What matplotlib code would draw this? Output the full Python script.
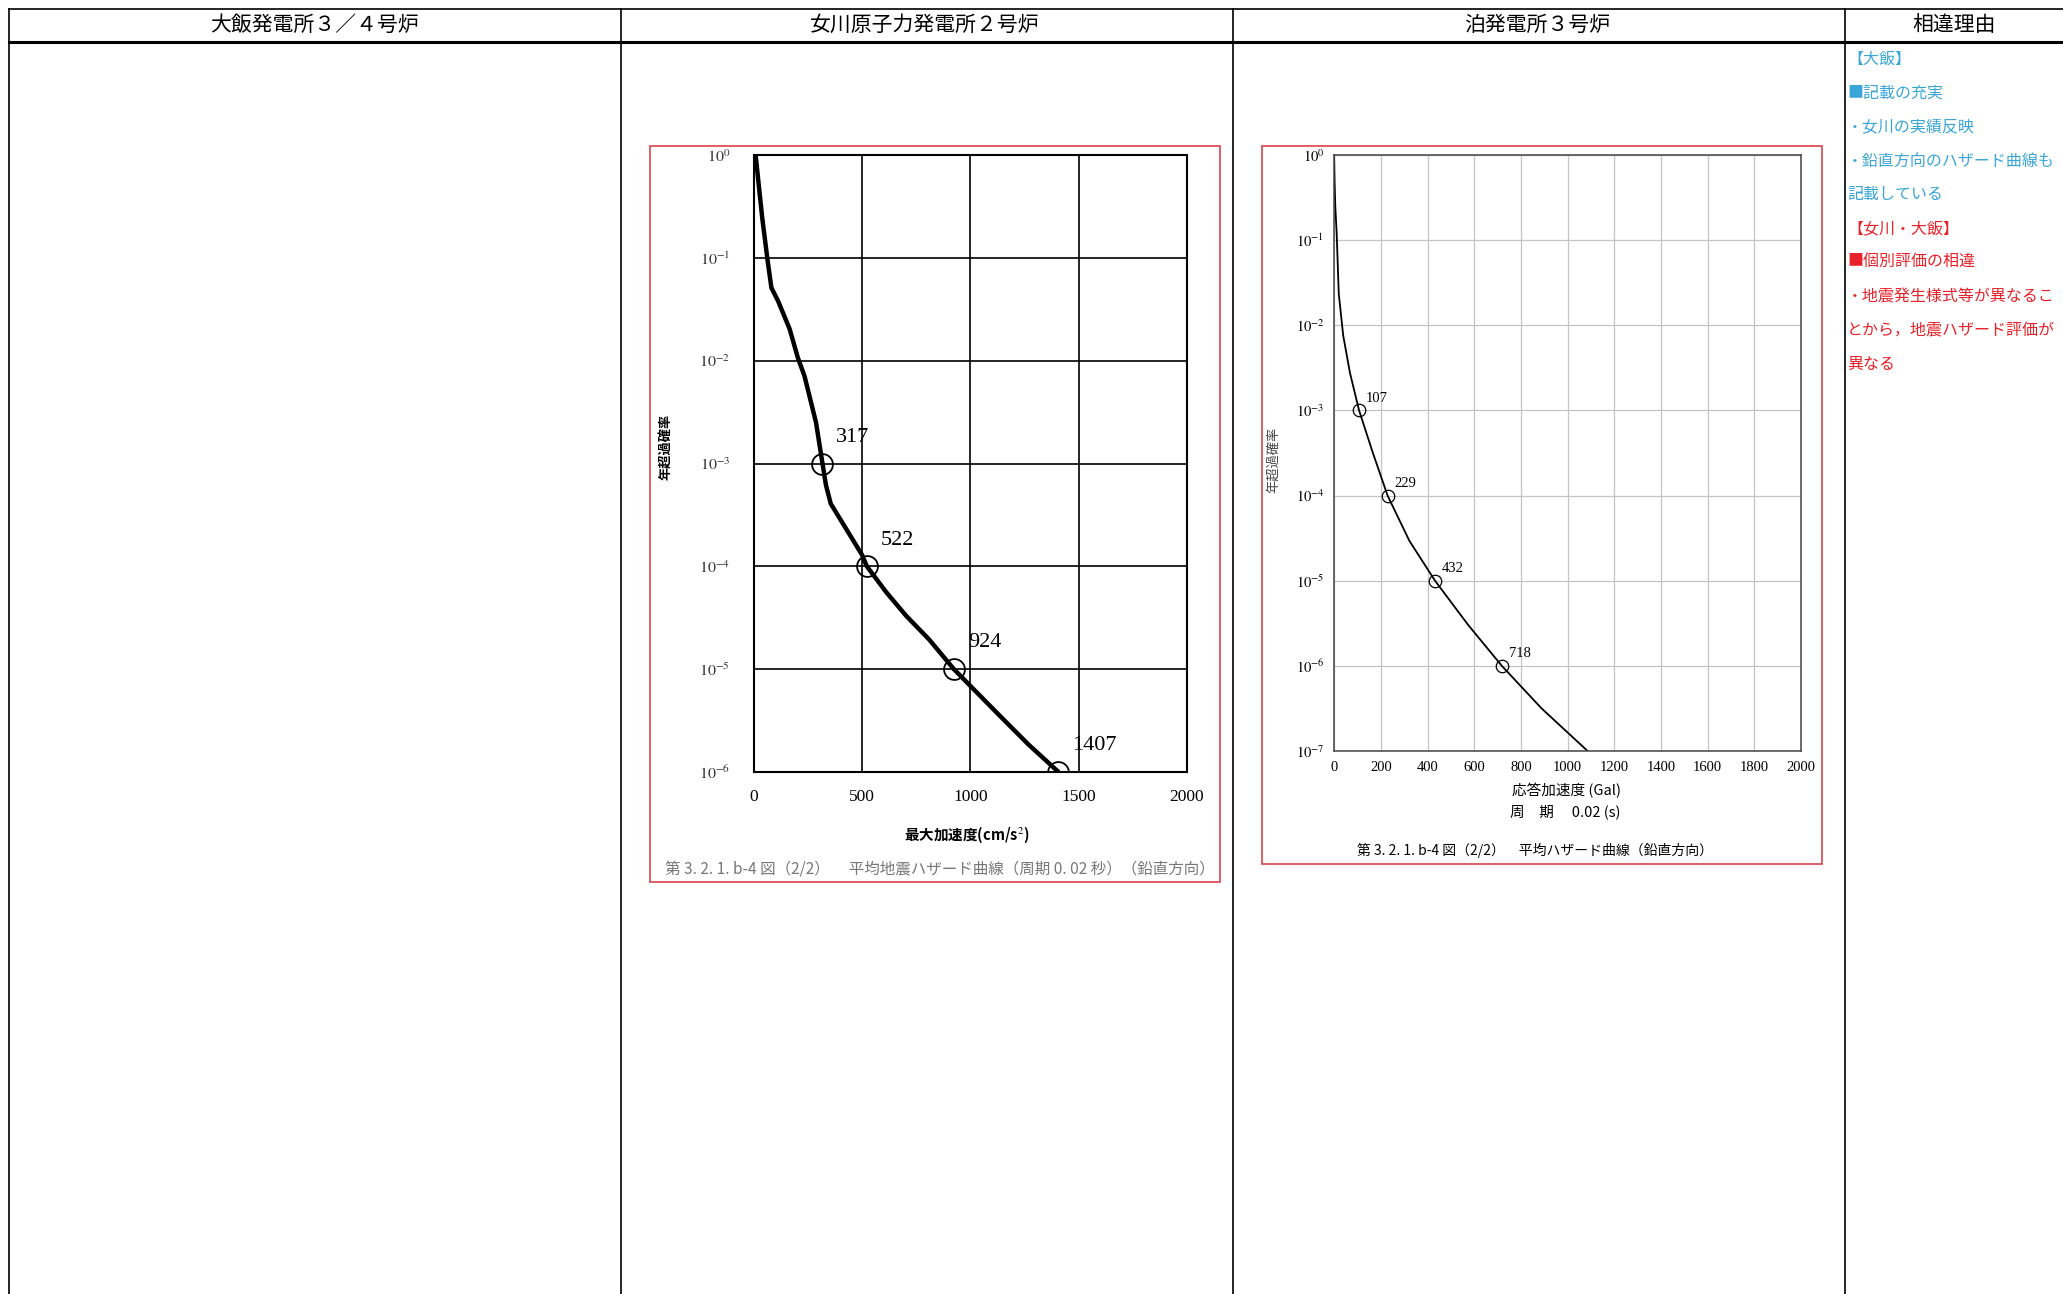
import matplotlib
matplotlib.use("Agg")
import matplotlib.pyplot as plt
from matplotlib.lines import Line2D
from matplotlib.patches import Rectangle
from matplotlib.ticker import FixedLocator, NullLocator
import numpy as np

plt.rcParams['font.family'] = ['Noto Sans CJK JP', 'DejaVu Sans']
plt.rcParams['mathtext.fontset'] = 'stix'

# ---- data ----
headers = ["大飯発電所３／４号炉", "女川原子力発電所２号炉", "泊発電所３号炉", "相違理由"]

# Onagawa 2 (vertical, period 0.02 s): acceleration (cm/s2) vs log10(annual exceedance)
ona_acc = [8, 13, 38, 63, 81, 112, 165, 203, 234, 287, 317, 333, 355, 416, 500, 522,
           611, 703, 809, 924, 1022, 1144, 1267, 1407]
ona_logp = [0.0, -0.1, -0.6, -1.02, -1.29, -1.42, -1.69, -1.97, -2.15, -2.6, -3.0, -3.21, -3.39, -3.6, -3.89, -4.0,
            -4.25, -4.48, -4.71, -5.0, -5.21, -5.47, -5.73, -6.0]
ona_mark_acc = [317, 522, 924, 1407]
ona_mark_logp = [-3, -4, -5, -6]

# Tomari 3 (vertical, period 0.02 s): acceleration (Gal) vs log10(annual exceedance)
tom_acc = [0, 2, 5, 11, 20, 39, 68, 107, 165, 229, 322, 432, 574, 718, 888, 1085]
tom_logp = [0.0, -0.3, -0.6, -0.92, -1.63, -2.12, -2.56, -3.0, -3.49, -4.0, -4.53, -5.0, -5.52, -6.0, -6.5, -7.0]
tom_mark_acc = [107, 229, 432, 718]
tom_mark_logp = [-3, -4, -5, -6]

reason_lines = [
    ("【大飯】", "#3aa6d8"),
    ("■記載の充実", "#3aa6d8"),
    ("・女川の実績反映", "#3aa6d8"),
    ("・鉛直方向のハザード曲線も", "#3aa6d8"),
    ("記載している", "#3aa6d8"),
    ("【女川・大飯】", "#e8222a"),
    ("■個別評価の相違", "#e8222a"),
    ("・地震発生様式等が異なるこ", "#e8222a"),
    ("とから，地震ハザード評価が", "#e8222a"),
    ("異なる", "#e8222a"),
]

W, H = 1568.0, 984.0  # layout measured on the shrunk picture


def fx(x):
    return x / W


def fy(y):
    return 1 - y / H


fig = plt.figure(figsize=(20.63, 12.94), dpi=100)

# ---- table frame ----
col_x = [7, 472, 937, 1402]
fig.add_artist(Line2D([fx(7), 1], [fy(7), fy(7)], color='black', lw=1.2))
fig.add_artist(Line2D([fx(7), 1], [fy(32), fy(32)], color='black', lw=2.2))
for cx in col_x:
    fig.add_artist(Line2D([fx(cx), fx(cx)], [fy(7), 0], color='black', lw=1.2))
col_centers = [239, 703, 1168, 1485]
for cx, h in zip(col_centers, headers):
    fig.text(fx(cx), fy(19), h, ha='center', va='center', fontsize=15)

# ---- reasons column ----
for i, (txt, c) in enumerate(reason_lines):
    fig.text(fx(1404), fy(45 + i * 25.8), txt, ha='left', va='center', fontsize=11.5, color=c)

# ---- middle chart: Onagawa ----
fig.add_artist(Rectangle((fx(494), fy(671)), fx(927) - fx(494), fy(111) - fy(671),
                         transform=fig.transFigure, fill=False, ec='#d9434a', lw=1.2))
ax1 = fig.add_axes([fx(573), fy(587), fx(902) - fx(573), fy(118) - fy(587)])
ax1.plot(ona_acc, 10 ** np.array(ona_logp), color='black', lw=3.2, solid_capstyle='round',
         solid_joinstyle='round')
ax1.plot(ona_mark_acc, 10.0 ** np.array(ona_mark_logp), 'o', mfc='none', mec='black', ms=15, mew=1.3)
for a, lp in zip(ona_mark_acc, ona_mark_logp):
    ax1.annotate(str(a), (a, 10.0 ** lp), xytext=(10, 12), textcoords='offset points',
                 fontsize=16, family='Liberation Serif', ha='left', va='bottom')
ax1.set_yscale('log')
ax1.set_xlim(0, 2000)
ax1.set_ylim(1e-6, 1)
ax1.xaxis.set_major_locator(FixedLocator([0, 500, 1000, 1500, 2000]))
ax1.yaxis.set_major_locator(FixedLocator([10.0 ** k for k in range(-6, 1)]))
ax1.yaxis.set_minor_locator(NullLocator())
ax1.set_yticklabels([r'$10^{%d}$' % k for k in range(-6, 1)])
ax1.grid(True, color='black', lw=1.2)
for s in ax1.spines.values():
    s.set_linewidth(1.5)
ax1.tick_params(length=0, pad=12, labelsize=12.5)
ax1.tick_params(axis='y', labelcolor='#333333', labelsize=11.5, pad=17)
for lab in ax1.get_xticklabels():
    lab.set_family('Liberation Serif')
fig.text(fx(735), fy(635), '最大加速度(cm/s$^{2}$)', ha='center', va='center', fontsize=10.5, fontweight='bold')
fig.text(fx(506), fy(340), '年超過確率', ha='center', va='center', rotation=90, fontsize=9.5, fontweight='bold')
fig.text(fx(714), fy(661), '第 3. 2. 1. b-4 図（2/2）　 平均地震ハザード曲線（周期 0. 02 秒）（鉛直方向）',
         ha='center', va='center', fontsize=11.2, color='#777777')

# ---- right chart: Tomari ----
fig.add_artist(Rectangle((fx(959), fy(657)), fx(1385) - fx(959), fy(111) - fy(657),
                         transform=fig.transFigure, fill=False, ec='#d9434a', lw=1.2))
ax2 = fig.add_axes([fx(1014), fy(571), fx(1369) - fx(1014), fy(118) - fy(571)])
ax2.plot(tom_acc, 10.0 ** np.array(tom_logp), color='black', lw=1.3)
ax2.plot(tom_mark_acc, 10.0 ** np.array(tom_mark_logp), 'o', mfc='none', mec='black', ms=9, mew=0.9)
for a, lp in zip(tom_mark_acc, tom_mark_logp):
    ax2.annotate(str(a), (a, 10.0 ** lp), xytext=(5, 4), textcoords='offset points',
                 fontsize=10.5, family='Liberation Serif', ha='left', va='bottom')
ax2.set_yscale('log')
ax2.set_xlim(0, 2000)
ax2.set_ylim(1e-7, 1)
ax2.xaxis.set_major_locator(FixedLocator(list(range(0, 2001, 200))))
ax2.yaxis.set_major_locator(FixedLocator([10.0 ** k for k in range(-7, 1)]))
ax2.yaxis.set_minor_locator(NullLocator())
ax2.set_yticklabels([r'$10^{%d}$' % k for k in range(-7, 1)])
ax2.grid(True, color='#c4c4c4', lw=0.9)
for s in ax2.spines.values():
    s.set_linewidth(1.1)
    s.set_color('#444444')
ax2.tick_params(length=0, pad=7, labelsize=10.5)
for lab in ax2.get_xticklabels():
    lab.set_family('Liberation Serif')
fig.text(fx(1191), fy(601), '応答加速度 (Gal)', ha='center', va='center', fontsize=10.5)
fig.text(fx(1190), fy(617), '周　期　 0.02 (s)', ha='center', va='center', fontsize=10.5)
fig.text(fx(968), fy(350), '年超過確率', ha='center', va='center', rotation=90, fontsize=9.5, color='#444444')
fig.text(fx(1167), fy(647), '第 3. 2. 1. b-4 図（2/2）　平均ハザード曲線（鉛直方向）',
         ha='center', va='center', fontsize=10)

fig.savefig('out.png', dpi=100)
